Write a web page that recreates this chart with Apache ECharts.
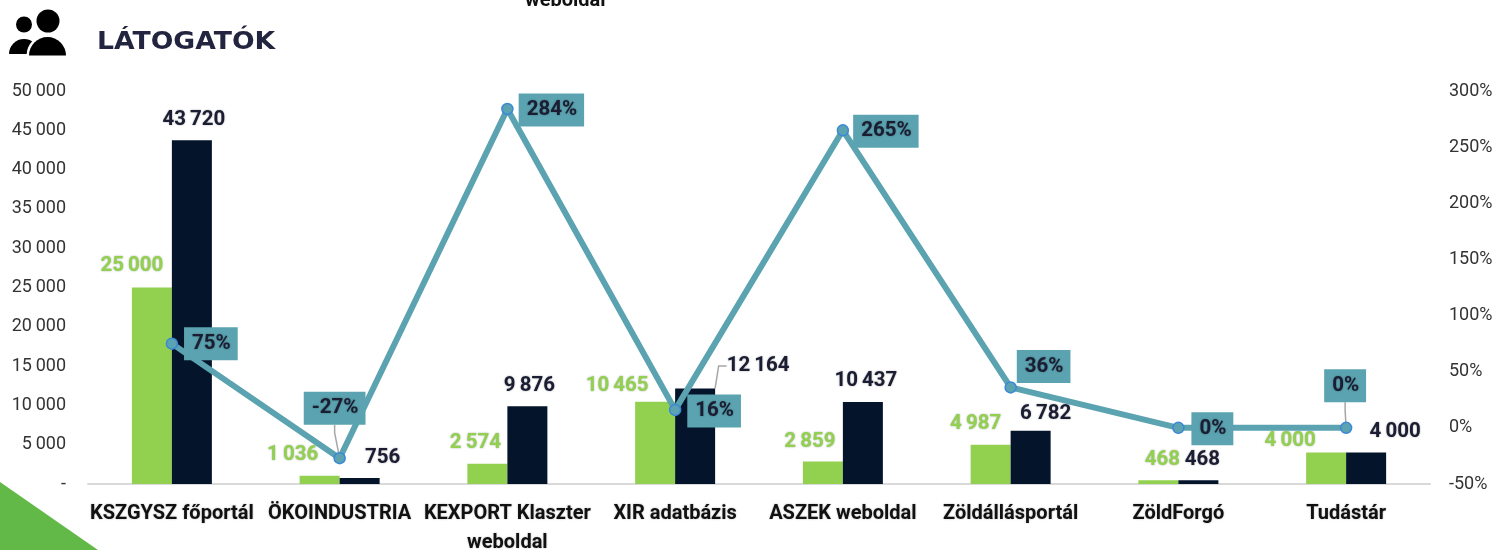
<!DOCTYPE html>
<html><head><meta charset="utf-8">
<style>html,body{margin:0;padding:0;background:#fff}#c{width:1505px;height:550px}</style>
<script src="https://cdn.jsdelivr.net/npm/echarts@6/dist/echarts.min.js"></script>
</head><body><div id="c"></div>
<script>
const categories = ['KSZGYSZ főportál','ÖKOINDUSTRIA','KEXPORT Klaszter\nweboldal','XIR adatbázis','ASZEK weboldal','Zöldállásportál','ZöldForgó','Tudástár'];
const plannedValues = [25000,1036,2574,10465,2859,4987,468,4000];
const actualValues = [43720,756,9876,12164,10437,6782,468,4000];
const changePercent = [75,-27,284,16,265,36,0,0];

// label nudges [dx, dy] away from the default anchor
const plannedNudge = [[-20,-8],[-27,-7],[-12,-7],[-38,-2],[-13,-6],[-15,-7],[4,-7],[-36,2]];
const actualNudge = [[2,-7],[23,-7],[2,-7],[63,-9],[3,-8],[15,-3],[4,-7],[29,-7]];
const changeNudge = [[39,0],[-5,-50],[44,1],[39,1],[43,1],[33,-21],[34,1],[-1,-42]];
const actualLeader = [3];
const changeLeader = [1,7];

const DARK='#1b1d33', GREEN='#92d050', NAVY='#03142b', TEAL='#5ba3b0';
const FONT='Roboto, "Noto Sans", sans-serif';
const fmt = v => String(v).replace(/\B(?=(\d{3})+$)/g,'\u2009');
const shadow = {textShadowColor:'rgba(0,0,0,0.35)',textShadowBlur:2};
const leader = {show:true,length:8,length2:8,lineStyle:{color:'#a6a6a6',width:1.5}};
const withLeader = (vals, idx) => vals.map((v,i)=> idx.includes(i) ? {value:v,labelLine:leader} : v);
const layoutFrom = n => p => ({dx:n[p.dataIndex][0],dy:n[p.dataIndex][1]});

const chart = echarts.init(document.getElementById('c'),null,{renderer:'canvas'});
chart.setOption({
  animation:false,
  textStyle:{fontFamily:FONT},
  grid:{left:88,right:75,top:91,bottom:66,outerBoundsMode:'none'},
  xAxis:{type:'category',data:categories,
    axisLine:{lineStyle:{color:'#d9d9d9',width:2}},axisTick:{show:false},
    axisLabel:{interval:0,color:'#111',fontWeight:700,fontSize:20,fontFamily:FONT,margin:15,lineHeight:29,
      textShadowColor:'rgba(0,0,0,0.3)',textShadowBlur:2}},
  yAxis:[
    {type:'value',min:0,max:50000,interval:5000,splitLine:{show:false},axisLine:{show:false},axisTick:{show:false},
     axisLabel:{color:'#333',fontSize:18,fontFamily:FONT,margin:22,padding:[6,0,0,0],formatter:v=>v===0?'-':fmt(v)}},
    {type:'value',min:-50,max:300,interval:50,position:'right',splitLine:{show:false},axisLine:{show:false},axisTick:{show:false},
     axisLabel:{color:'#333',fontSize:18,fontFamily:FONT,margin:19,padding:[6,0,0,0],formatter:'{value}%'}}
  ],
  series:[
    {name:'Tervezett',type:'bar',data:plannedValues,barWidth:40,barGap:'0%',itemStyle:{color:GREEN},z:2,
     label:{show:true,position:'top',distance:3,color:GREEN,fontWeight:700,fontSize:20.5,fontFamily:FONT,formatter:p=>fmt(p.value),...shadow},
     labelLayout:layoutFrom(plannedNudge)},
    {name:'Tényleges',type:'bar',data:withLeader(actualValues,actualLeader),barWidth:40,itemStyle:{color:NAVY},z:2,
     label:{show:true,position:'top',distance:3,color:DARK,fontWeight:700,fontSize:20.5,fontFamily:FONT,formatter:p=>fmt(p.value),...shadow},
     labelLayout:layoutFrom(actualNudge)},
    {name:'Változás',type:'line',yAxisIndex:1,data:withLeader(changePercent,changeLeader),z:5,
     lineStyle:{color:TEAL,width:6},symbol:'circle',symbolSize:11,
     itemStyle:{color:TEAL,borderColor:'#3b88d8',borderWidth:1.5},
     label:{show:true,position:'inside',color:DARK,fontWeight:700,fontSize:20.5,fontFamily:FONT,
       backgroundColor:TEAL,padding:[6,7,6,8],formatter:p=>p.value+'%',...shadow},
     labelLayout:layoutFrom(changeNudge)}
  ],
  graphic:[
    {type:'polygon',shape:{points:[[0,482],[98,550],[0,550]]},style:{fill:'#63b947'},z:1},
    {type:'circle',shape:{cx:48,cy:21,r:11.5},style:{fill:'#000'},z:2},
    {type:'circle',shape:{cx:24,cy:24.5,r:8},style:{fill:'#000'},z:2},
    {type:'sector',shape:{cx:24,cy:54,r:15,r0:0,startAngle:Math.PI,endAngle:2*Math.PI},style:{fill:'#000'},z:2},
    {type:'sector',shape:{cx:47.5,cy:55.5,r:21,r0:0,startAngle:Math.PI,endAngle:2*Math.PI},style:{fill:'#fff'},z:3},
    {type:'sector',shape:{cx:47.5,cy:55.5,r:18.5,r0:0,startAngle:Math.PI,endAngle:2*Math.PI},style:{fill:'#000'},z:4},
    {type:'text',x:97,y:31,scaleX:1.11,style:{text:'LÁTOGATÓK',fill:'#23243f',font:'700 24px "DejaVu Sans", sans-serif'}},
    {type:'text',style:{x:525,y:-9,text:'weboldal',fill:'#111',font:'700 20px Roboto, sans-serif'}}
  ]
});
</script></body></html>
